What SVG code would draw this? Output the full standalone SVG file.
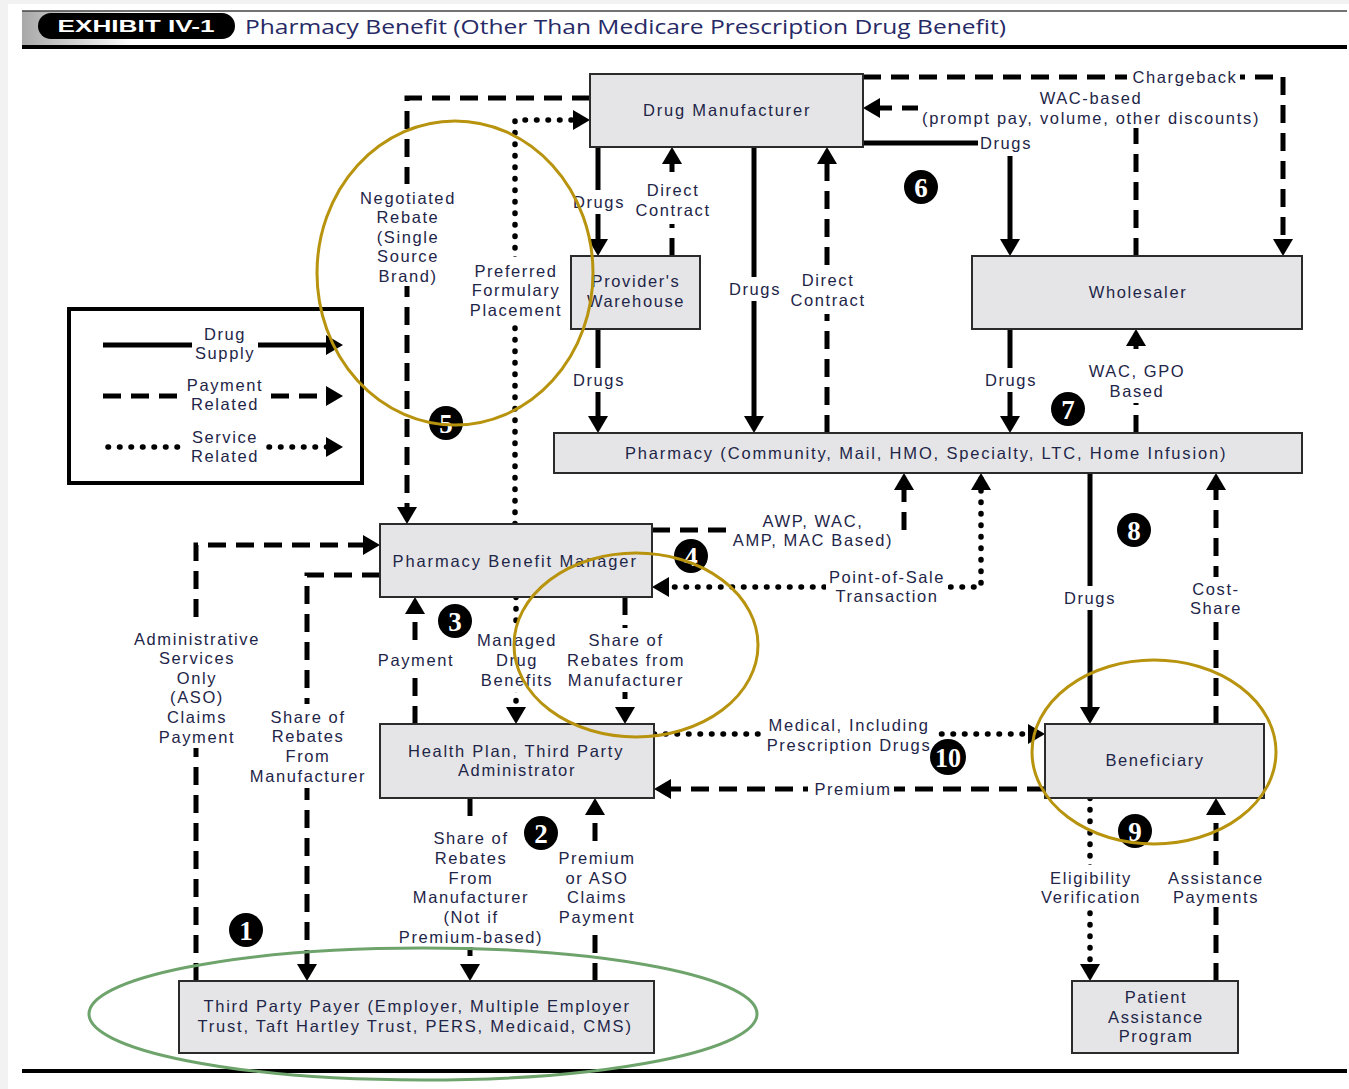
<svg xmlns="http://www.w3.org/2000/svg" width="1349" height="1089" viewBox="0 0 1349 1089">
<defs>
<style>
.node rect{fill:#e5e5e7;stroke:#2b2b2b;stroke-width:2}
.t{font-family:"Liberation Sans",Arial,sans-serif;font-size:16.5px;fill:#1e2548;letter-spacing:1.6px;text-anchor:middle}
.solid{stroke:#000;stroke-width:5;fill:none}
.dash{stroke:#000;stroke-width:5;fill:none;stroke-dasharray:18 10}
.dot{stroke:#000;stroke-width:5.5;fill:none;stroke-dasharray:0.5 11;stroke-linecap:round}
.lb{fill:#fff}
.num circle{fill:#000}
.num text{font-family:"Liberation Serif","Times New Roman",serif;font-size:27px;font-weight:bold;fill:#fff;text-anchor:middle}
.gold{fill:none;stroke:#b8930e;stroke-width:3}
.green{fill:none;stroke:#6ea46c;stroke-width:3}
</style>
<marker id="ah" markerUnits="userSpaceOnUse" viewBox="0 0 17 20" markerWidth="17" markerHeight="20" refX="11" refY="10" orient="auto-start-reverse">
<path d="M0,0 L17,10 L0,20 z" fill="#000"/>
</marker>
<linearGradient id="hg" x1="0" y1="0" x2="1" y2="0">
<stop offset="0" stop-color="#a8a8a8"/>
<stop offset="1" stop-color="#ffffff"/>
</linearGradient>
</defs>

<rect x="0" y="0" width="1349" height="1089" fill="#f2f2f2"/>
<rect x="8" y="4" width="1341" height="1085" fill="#ffffff"/>

<g id="header">
<rect x="22" y="11" width="110" height="35" fill="url(#hg)"/>
<line x1="22" y1="11" x2="1347" y2="11" stroke="#444" stroke-width="1.5"/>
<line x1="22" y1="47" x2="1347" y2="47" stroke="#000" stroke-width="4"/>
<rect x="38" y="13" width="197" height="26" rx="13" fill="#000"/>
<text x="136" y="32" font-family="Liberation Sans,Arial,sans-serif" font-size="17" font-weight="bold" fill="#fff" text-anchor="middle" textLength="157" lengthAdjust="spacingAndGlyphs">EXHIBIT IV-1</text>
<text x="245" y="34" font-family="Open Sans,Noto Sans,sans-serif" font-size="20" fill="#272a66" textLength="761" lengthAdjust="spacingAndGlyphs">Pharmacy Benefit (Other Than Medicare Prescription Drug Benefit)</text>
<line x1="22" y1="1071" x2="1347" y2="1071" stroke="#000" stroke-width="4"/>
</g>

<g id="legend">
<rect x="69" y="309" width="293" height="174" fill="#fff" stroke="#000" stroke-width="4"/>
<path class="solid" d="M103,345 H337" marker-end="url(#ah)"/>
<path class="dash" d="M103,396 H337" marker-end="url(#ah)"/>
<path class="dot" d="M108,447 H337" marker-end="url(#ah)"/>
<rect class="lb" x="192" y="323" width="66" height="42"/>
<text class="t" x="225" y="340">Drug</text><text class="t" x="225" y="359">Supply</text>
<rect class="lb" x="181" y="374" width="88" height="42"/>
<text class="t" x="225" y="391">Payment</text><text class="t" x="225" y="410">Related</text>
<rect class="lb" x="184" y="425" width="82" height="42"/>
<text class="t" x="225" y="443">Service</text><text class="t" x="225" y="462">Related</text>
</g>

<g id="connectors">
<path class="solid" d="M598,147 V250" marker-end="url(#ah)"/>
<path class="dash" d="M672,256 V153" marker-end="url(#ah)"/>
<path class="solid" d="M598,329 V427" marker-end="url(#ah)"/>
<path class="solid" d="M754,147 V427" marker-end="url(#ah)"/>
<path class="dash" d="M827,433 V153" marker-end="url(#ah)"/>
<path class="solid" d="M863,143 H1010 V250" marker-end="url(#ah)"/>
<path class="dash" d="M1136,256 V108 H869" marker-end="url(#ah)"/>
<path class="dash" d="M863,77 H1283 V250" marker-end="url(#ah)"/>
<path class="solid" d="M1010,329 V427" marker-end="url(#ah)"/>
<path class="dash" d="M1136,433 V335" marker-end="url(#ah)"/>
<path class="dash" d="M590,98 H407 V518" marker-end="url(#ah)"/>
<path class="dot" d="M515,524 V120 H584" marker-end="url(#ah)"/>
<path class="dash" d="M652,530 H904 V479" marker-end="url(#ah)"/>
<path class="dot" d="M981,479 V587 H658" marker-start="url(#ah)" marker-end="url(#ah)"/>
<path class="solid" d="M1090,473 V718" marker-end="url(#ah)"/>
<path class="dash" d="M1216,724 V479" marker-end="url(#ah)"/>
<path class="dash" d="M196,981 V545 H374" marker-end="url(#ah)"/>
<path class="dash" d="M380,575 H307 V975" marker-end="url(#ah)"/>
<path class="dash" d="M415,724 V603" marker-end="url(#ah)"/>
<path class="dot" d="M516,597 V718" marker-end="url(#ah)"/>
<path class="dash" d="M625,597 V718" marker-end="url(#ah)"/>
<path class="dot" d="M654,734 H1039" marker-end="url(#ah)"/>
<path class="dash" d="M1045,789 H660" marker-end="url(#ah)"/>
<path class="dash" d="M470,798 V975" marker-end="url(#ah)"/>
<path class="dash" d="M595,981 V804" marker-end="url(#ah)"/>
<path class="dot" d="M1090,798 V975" marker-end="url(#ah)"/>
<path class="dash" d="M1216,981 V804" marker-end="url(#ah)"/>
</g>

<g id="connector-labels">
<rect class="lb" x="572" y="190" width="52" height="24"/><text class="t" x="599" y="208">Drugs</text>
<rect class="lb" x="632" y="178" width="80" height="46"/><text class="t" x="673" y="196">Direct</text><text class="t" x="673" y="216">Contract</text>
<rect class="lb" x="572" y="368" width="52" height="24"/><text class="t" x="599" y="386">Drugs</text>
<rect class="lb" x="726" y="277" width="56" height="24"/><text class="t" x="755" y="295">Drugs</text>
<rect class="lb" x="787" y="268" width="80" height="46"/><text class="t" x="828" y="286">Direct</text><text class="t" x="828" y="306">Contract</text>
<rect class="lb" x="978" y="132" width="56" height="24"/><text class="t" x="1006" y="149">Drugs</text>
<rect class="lb" x="918" y="86" width="346" height="42"/><text class="t" x="1091" y="104">WAC-based</text><text class="t" x="1091" y="124" textLength="338">(prompt pay, volume, other discounts)</text>
<rect class="lb" x="1127" y="67" width="113" height="22"/><text class="t" x="1185" y="83">Chargeback</text>
<rect class="lb" x="984" y="368" width="52" height="24"/><text class="t" x="1011" y="386">Drugs</text>
<rect class="lb" x="1082" y="359" width="108" height="44"/><text class="t" x="1137" y="377">WAC, GPO</text><text class="t" x="1137" y="397">Based</text>
<rect class="lb" x="355" y="184" width="104" height="102"/><text class="t" x="408" y="204">Negotiated</text><text class="t" x="408" y="223">Rebate</text><text class="t" x="408" y="243">(Single</text><text class="t" x="408" y="262">Source</text><text class="t" x="408" y="282">Brand)</text>
<rect class="lb" x="465" y="257" width="102" height="64"/><text class="t" x="516" y="277">Preferred</text><text class="t" x="516" y="296">Formulary</text><text class="t" x="516" y="316">Placement</text>
<rect class="lb" x="726" y="508" width="174" height="42"/><text class="t" x="813" y="527">AWP, WAC,</text><text class="t" x="813" y="546">AMP, MAC Based)</text>
<rect class="lb" x="826" y="565" width="122" height="42"/><text class="t" x="887" y="583">Point-of-Sale</text><text class="t" x="887" y="602">Transaction</text>
<rect class="lb" x="1060" y="586" width="58" height="24"/><text class="t" x="1090" y="604">Drugs</text>
<rect class="lb" x="1188" y="577" width="56" height="44"/><text class="t" x="1216" y="595">Cost-</text><text class="t" x="1216" y="614">Share</text>
<rect class="lb" x="130" y="626" width="134" height="122"/><text class="t" x="197" y="645">Administrative</text><text class="t" x="197" y="664">Services</text><text class="t" x="197" y="684">Only</text><text class="t" x="197" y="703">(ASO)</text><text class="t" x="197" y="723">Claims</text><text class="t" x="197" y="743">Payment</text>
<rect class="lb" x="244" y="704" width="126" height="84"/><text class="t" x="308" y="723">Share of</text><text class="t" x="308" y="742">Rebates</text><text class="t" x="308" y="762">From</text><text class="t" x="308" y="782">Manufacturer</text>
<rect class="lb" x="372" y="648" width="86" height="24"/><text class="t" x="416" y="666">Payment</text>
<rect class="lb" x="474" y="628" width="84" height="64"/><text class="t" x="517" y="646">Managed</text><text class="t" x="517" y="666">Drug</text><text class="t" x="517" y="686">Benefits</text>
<rect class="lb" x="563" y="628" width="124" height="64"/><text class="t" x="626" y="646">Share of</text><text class="t" x="626" y="666">Rebates from</text><text class="t" x="626" y="686">Manufacturer</text>
<rect class="lb" x="764" y="713" width="170" height="42"/><text class="t" x="849" y="731">Medical, Including</text><text class="t" x="849" y="751">Prescription Drugs</text>
<rect class="lb" x="808" y="778" width="86" height="22"/><text class="t" x="853" y="795">Premium</text>
<rect class="lb" x="394" y="825" width="152" height="122"/><text class="t" x="471" y="844">Share of</text><text class="t" x="471" y="864">Rebates</text><text class="t" x="471" y="884">From</text><text class="t" x="471" y="903">Manufacturer</text><text class="t" x="471" y="923">(Not if</text><text class="t" x="471" y="943">Premium-based)</text>
<rect class="lb" x="553" y="845" width="86" height="84"/><text class="t" x="597" y="864">Premium</text><text class="t" x="597" y="884">or ASO</text><text class="t" x="597" y="903">Claims</text><text class="t" x="597" y="923">Payment</text>
<rect class="lb" x="1036" y="865" width="108" height="42"/><text class="t" x="1091" y="884">Eligibility</text><text class="t" x="1091" y="903">Verification</text>
<rect class="lb" x="1161" y="865" width="108" height="42"/><text class="t" x="1216" y="884">Assistance</text><text class="t" x="1216" y="903">Payments</text>
</g>

<g id="drug-manufacturer" class="node"><rect x="590" y="74" width="273" height="73"/><text class="t" x="727" y="116" textLength="168">Drug Manufacturer</text></g>
<g id="providers-warehouse" class="node"><rect x="571" y="256" width="129" height="73"/><text class="t" x="636" y="287">Provider's</text><text class="t" x="636" y="307">Warehouse</text></g>
<g id="wholesaler" class="node"><rect x="972" y="256" width="330" height="73"/><text class="t" x="1138" y="298">Wholesaler</text></g>
<g id="pharmacy" class="node"><rect x="554" y="433" width="748" height="40"/><text class="t" x="926" y="459" textLength="602">Pharmacy (Community, Mail, HMO, Specialty, LTC, Home Infusion)</text></g>
<g id="pbm" class="node"><rect x="380" y="524" width="272" height="73"/><text class="t" x="515" y="567" textLength="245">Pharmacy Benefit Manager</text></g>
<g id="health-plan" class="node"><rect x="380" y="724" width="274" height="74"/><text class="t" x="516" y="757" textLength="216">Health Plan, Third Party</text><text class="t" x="517" y="776">Administrator</text></g>
<g id="beneficiary" class="node"><rect x="1045" y="724" width="219" height="74"/><text class="t" x="1155" y="766">Beneficiary</text></g>
<g id="third-party-payer" class="node"><rect x="179" y="981" width="475" height="72"/><text class="t" x="417" y="1012" textLength="427">Third Party Payer (Employer, Multiple Employer</text><text class="t" x="415" y="1032" textLength="435">Trust, Taft Hartley Trust, PERS, Medicaid, CMS)</text></g>
<g id="patient-assistance" class="node"><rect x="1072" y="981" width="166" height="72"/><text class="t" x="1156" y="1003">Patient</text><text class="t" x="1156" y="1023">Assistance</text><text class="t" x="1156" y="1042">Program</text></g>

<g id="numbers" class="num">
<circle cx="246" cy="930" r="17"/><text x="246" y="940">1</text>
<circle cx="541" cy="833" r="17"/><text x="541" y="843">2</text>
<circle cx="455" cy="621" r="17"/><text x="455" y="631">3</text>
<circle cx="691" cy="556" r="17"/><text x="691" y="566">4</text>
<circle cx="446" cy="423" r="17"/><text x="446" y="433">5</text>
<circle cx="921" cy="187" r="17"/><text x="921" y="197">6</text>
<circle cx="1068" cy="409" r="17"/><text x="1068" y="419">7</text>
<circle cx="1134" cy="530" r="17"/><text x="1134" y="540">8</text>
<circle cx="1135" cy="831" r="17"/><text x="1135" y="841">9</text>
<circle cx="948" cy="757" r="18"/><text x="948" y="767" font-size="24" textLength="26" lengthAdjust="spacingAndGlyphs">10</text>
</g>

<g id="highlights">
<ellipse class="gold" cx="455" cy="273" rx="138" ry="152"/>
<ellipse class="gold" cx="636" cy="645" rx="122" ry="92"/>
<ellipse class="gold" cx="1154" cy="752" rx="122" ry="92"/>
<ellipse class="green" cx="423" cy="1014" rx="334" ry="66"/>
</g>
</svg>
